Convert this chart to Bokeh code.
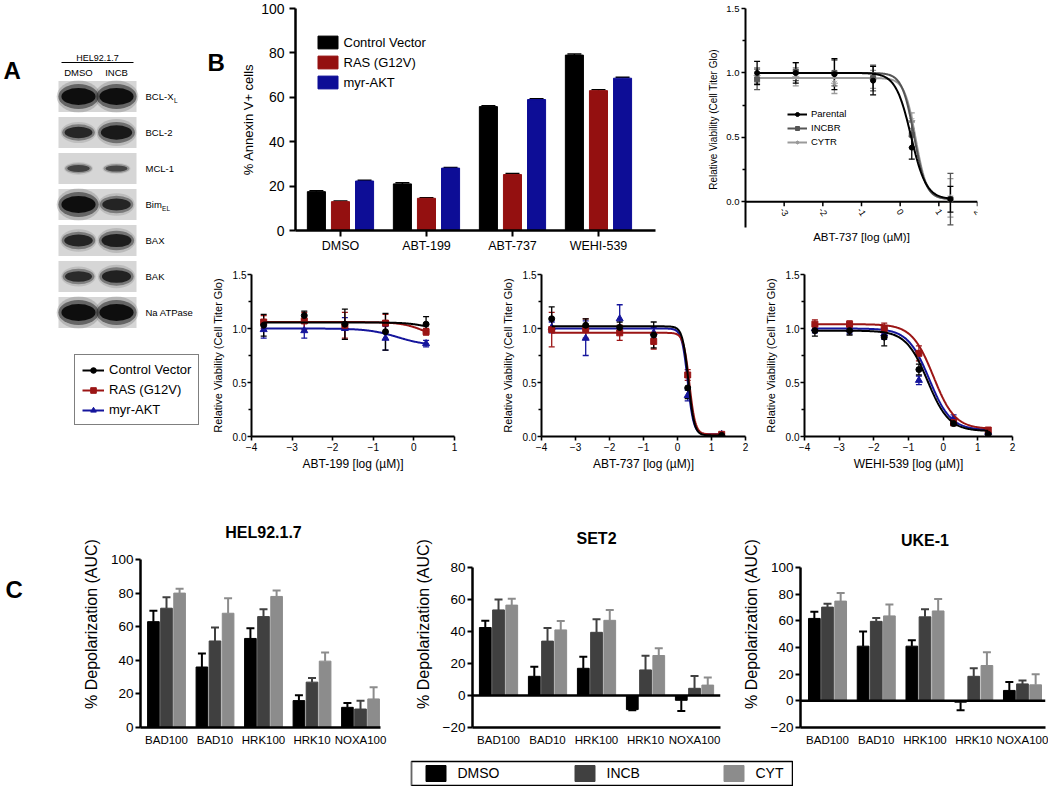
import numpy as np
from bokeh.plotting import figure
from bokeh.models import (Range1d, FixedTicker, NumeralTickFormatter, Whisker, ColumnDataSource,
                          Legend, LegendItem, Span, TeeHead, Spacer)
from bokeh.layouts import row, column
from bokeh.core.properties import value
from bokeh.embed import file_html
from bokeh.resources import INLINE

FONT = "Liberation Sans"

# ---------------- data ----------------
# Panel A: western blot (relative band intensity, read by eye)
blot_proteins = ["BCL-X", "BCL-2", "MCL-1", "Bim", "BAX", "BAK", "Na ATPase"]
blot_subscripts = ["L", "", "", "EL", "", "", ""]
blot_lanes = ["DMSO", "INCB"]
blot_dmso = [1.0, 0.55, 0.2, 1.0, 0.6, 0.5, 1.0]
blot_incb = [1.0, 0.8, 0.15, 0.6, 0.7, 0.65, 1.0]

# Panel B: % Annexin V+ cells
b_categories = ["DMSO", "ABT-199", "ABT-737", "WEHI-539"]
b_series = ["Control Vector", "RAS (G12V)", "myr-AKT"]
b_control = [17.5, 21.0, 55.8, 79.0]
b_ras = [13.0, 14.5, 25.2, 63.0]
b_akt = [22.3, 28.1, 59.0, 68.6]
b_control_err = [0.4, 0.5, 0.4, 0.5]
b_ras_err = [0.3, 0.3, 0.5, 0.4]
b_akt_err = [0.3, 0.3, 0.4, 0.4]

# Dose-response panels (log uM)
log_dose = [-3.7, -2.7, -1.7, -0.7, 0.3, 1.3]
log_dose_199 = [-3.7, -2.7, -1.7, -0.7, 0.3]

# top right: ABT-737 in parental / resistant lines
tr_names = ["Parental", "INCBR", "CYTR"]
tr_parental = [1.00, 1.00, 0.99, 0.94, 0.42, 0.02]
tr_parental_err = [0.09, 0.08, 0.12, 0.11, 0.09, 0.10]
tr_incbr = [0.95, 1.01, 1.00, 0.96, 0.52, 0.02]
tr_incbr_err = [0.08, 0.07, 0.10, 0.10, 0.10, 0.20]
tr_cytr = [0.98, 0.97, 0.92, 0.95, 0.63, 0.03]
tr_cytr_err = [0.06, 0.07, 0.08, 0.07, 0.06, 0.15]
# fitted curve parameters [top, bottom, logIC50, hill]
tr_parental_fit = [1.00, 0.02, 0.28, 2.2]
tr_incbr_fit = [1.00, 0.02, 0.36, 2.8]
tr_cytr_fit = [0.96, 0.02, 0.40, 3.0]

curve_names = ["Control Vector", "RAS (G12V)", "myr-AKT"]
# ABT-199
abt199_control = [1.03, 1.12, 1.04, 0.97, 1.04]
abt199_control_err = [0.10, 0.04, 0.14, 0.17, 0.07]
abt199_ras = [1.06, 1.07, 1.03, 1.05, 0.97]
abt199_ras_err = [0.06, 0.08, 0.12, 0.08, 0.03]
abt199_akt = [0.99, 0.98, 1.00, 0.91, 0.86]
abt199_akt_err = [0.08, 0.07, 0.10, 0.11, 0.03]
abt199_control_fit = [1.055, 1.00, 0.2, 2.0]
abt199_ras_fit = [1.06, 0.88, 0.3, 1.5]
abt199_akt_fit = [1.00, 0.84, -0.4, 1.2]
# ABT-737
abt737_control = [1.09, 1.03, 1.01, 0.94, 0.45, 0.01]
abt737_control_err = [0.11, 0.06, 0.05, 0.12, 0.10, 0.01]
abt737_ras = [0.99, 1.00, 0.96, 0.88, 0.57, 0.02]
abt737_ras_err = [0.16, 0.09, 0.07, 0.07, 0.05, 0.01]
abt737_akt = [1.01, 0.91, 1.09, 0.96, 0.38, 0.02]
abt737_akt_err = [0.05, 0.16, 0.13, 0.05, 0.05, 0.01]
abt737_control_fit = [1.02, 0.01, 0.32, 5.0]
abt737_ras_fit = [0.96, 0.02, 0.35, 5.0]
abt737_akt_fit = [1.00, 0.02, 0.30, 5.0]
# WEHI-539
wehi_control = [0.98, 0.98, 0.92, 0.62, 0.12, 0.02]
wehi_control_err = [0.05, 0.04, 0.08, 0.05, 0.02, 0.02]
wehi_ras = [1.04, 1.04, 1.00, 0.77, 0.13, 0.06]
wehi_ras_err = [0.04, 0.03, 0.05, 0.07, 0.03, 0.02]
wehi_akt = [1.00, 0.99, 0.95, 0.52, 0.17, 0.04]
wehi_akt_err = [0.04, 0.04, 0.05, 0.04, 0.03, 0.02]
wehi_control_fit = [0.98, 0.05, -0.45, 1.4]
wehi_ras_fit = [1.04, 0.07, -0.28, 1.4]
wehi_akt_fit = [1.00, 0.06, -0.40, 1.4]

# Panel C: BH3 profiling, % depolarization (AUC)
c_categories = ["BAD100", "BAD10", "HRK100", "HRK10", "NOXA100"]
c_treatments = ["DMSO", "INCB", "CYT"]
hel_dmso = [63, 36, 53, 16, 12]
hel_dmso_err = [6.5, 8, 6, 3.2, 2.6]
hel_incb = [71, 51.5, 66, 27, 11]
hel_incb_err = [6.5, 8, 4.4, 2.4, 4.9]
hel_cyt = [80, 68, 78, 39.5, 17]
hel_cyt_err = [2.6, 9, 3.6, 5.2, 7]
set2_dmso = [42.5, 12, 17, -8.8, -3]
set2_dmso_err = [4.3, 6, 7.3, 0.4, 6.7]
set2_incb = [53.5, 34, 39.5, 16, 4.5]
set2_incb_err = [6.5, 8.2, 8.2, 8.8, 7.7]
set2_cyt = [56.5, 41, 47, 25, 6.5]
set2_cyt_err = [4, 5.5, 6.5, 4.5, 4.7]
uke_dmso = [61.8, 41, 41, -1, 7.8]
uke_dmso_err = [5, 11, 4.4, 6, 6.4]
uke_incb = [70.3, 59.6, 63, 18.4, 12.7]
uke_incb_err = [2.5, 2.5, 5.6, 6, 2.5]
uke_cyt = [74.8, 63.7, 67.4, 26.5, 12]
uke_cyt_err = [6, 8.6, 9, 10, 8]

# ---------------- styles ----------------
B_COLORS = ["#000000", "#941010", "#0d0d96"]
CURVE_COLORS = ["#000000", "#9b1515", "#15159c"]
CURVE_MARKERS = ["circle", "square", "triangle"]
TR_COLORS = ["#000000", "#555555", "#9a9a9a"]
TR_MARKERS = ["circle", "square", "asterisk"]
C_COLORS = ["#000000", "#404040", "#8c8c8c"]


def base_fig(width, height, bl, br, bt, bb, xr, yr, axes=True):
    kw = {}
    if not axes:
        kw = dict(x_axis_location=None, y_axis_location=None)
    p = figure(width=width, height=height, x_range=xr, y_range=yr,
               min_border_left=bl, min_border_right=br, min_border_top=bt, min_border_bottom=bb,
               output_backend="svg", toolbar_location=None, tools="", **kw)
    p.xgrid.visible = False
    p.ygrid.visible = False
    p.outline_line_color = None
    p.background_fill_color = "white"
    p.border_fill_color = "white"
    return p


def style_axis(ax, label_size, title_size, line_w, tick_out, minor_out=0, label_standoff=3, title_standoff=5):
    ax.axis_line_width = line_w
    ax.axis_line_color = "black"
    ax.major_tick_line_width = line_w * 0.8
    ax.major_tick_line_color = "black"
    ax.major_tick_out = tick_out
    ax.major_tick_in = 0
    ax.minor_tick_out = minor_out
    ax.minor_tick_in = 0
    ax.minor_tick_line_width = line_w * 0.8
    ax.minor_tick_line_color = "black"
    ax.major_label_text_font = FONT
    ax.major_label_text_font_size = f"{label_size}px"
    ax.major_label_text_color = "black"
    ax.major_label_standoff = label_standoff
    ax.axis_label_text_font = FONT
    ax.axis_label_text_font_size = f"{title_size}px"
    ax.axis_label_text_font_style = "normal"
    ax.axis_label_text_color = "black"
    ax.axis_label_standoff = title_standoff


def hill(params, xs):
    top, bottom, c, h = params
    return bottom + (top - bottom) / (1.0 + 10 ** ((xs - c) * h))


def add_points(p, xs, ys, errs, fit, color, marker, size, cap=6):
    xx = np.linspace(xs[0], xs[-1], 300)
    lr = p.line(xx, hill(fit, xx), line_color=color, line_width=2)
    src = ColumnDataSource(dict(x=xs, lo=[v - e for v, e in zip(ys, errs)],
                                hi=[v + e for v, e in zip(ys, errs)]))
    p.add_layout(Whisker(source=src, base="x", lower="lo", upper="hi", line_color=color, line_width=1.3,
                         upper_head=TeeHead(size=cap, line_color=color, line_width=1.3),
                         lower_head=TeeHead(size=cap, line_color=color, line_width=1.3)))
    sr = p.scatter(xs, ys, marker=marker, size=size, fill_color=color, line_color=color)
    return [lr, sr]


def legend_common(leg, font_size):
    leg.label_text_font = FONT
    leg.label_text_font_size = f"{font_size}px"
    leg.label_text_color = "black"
    leg.background_fill_alpha = 0
    leg.margin = 0


def letter_fig(width, height, bt, bb, x0, y0, letter, lx, ly):
    # small figure holding a panel letter, in page pixel coordinates
    p = base_fig(width, height, 0, 0, bt, bb, Range1d(x0, x0 + width),
                 Range1d(y0 + height - bb, y0 + bt), axes=False)
    p.text(x=[lx], y=[ly], text=[letter], text_font=value(FONT), text_font_size="24px",
           text_font_style="bold", text_baseline="alphabetic")
    return p


# ---------------- Panel A ----------------
pa = base_fig(200, 480, 0, 0, 0, 0, Range1d(0, 200), Range1d(480, 0), axes=False)
row_y = [96 + 36 * i for i in range(len(blot_proteins))]
lane_x = [78, 116]
pa.rect(x=[97] * len(row_y), y=row_y, width=78, height=31, fill_color="#d6d6d6", line_color=None)
for lx, inten in zip(lane_x, [blot_dmso, blot_incb]):
    w = [22 + 16 * v for v in inten]
    h = [5 + 15 * v for v in inten]
    pa.ellipse(x=[lx] * len(row_y), y=row_y, width=[wi * 1.15 for wi in w], height=[hi * 1.6 for hi in h],
               fill_color="#333333", fill_alpha=[0.08 + 0.12 * v for v in inten], line_color=None)
    pa.ellipse(x=[lx] * len(row_y), y=row_y, width=[wi * 1.06 for wi in w], height=[hi * 1.25 for hi in h],
               fill_color="#222222", fill_alpha=[0.25 + 0.3 * v for v in inten], line_color=None)
    pa.ellipse(x=[lx] * len(row_y), y=row_y, width=[wi * 0.9 for wi in w], height=[hi * 0.85 for hi in h],
               fill_color="#0a0a0a", fill_alpha=[0.5 + 0.45 * v for v in inten], line_color=None)
pa.text(x=[3], y=[70], text=["A"], text_font=value(FONT), text_font_size="24px", text_font_style="bold",
        text_baseline="alphabetic")
pa.text(x=[97], y=[57], text=["HEL92.1.7"], text_font=value(FONT), text_font_size="9px",
        text_align="center", text_baseline="middle")
pa.segment(x0=[61], y0=[62], x1=[133], y1=[62], line_color="black", line_width=1)
pa.text(x=lane_x, y=[72, 72], text=blot_lanes, text_font=value(FONT), text_font_size="9.5px",
        text_align="center", text_baseline="middle")
pa.text(x=[145] * len(row_y), y=row_y, text=blot_proteins, text_font=value(FONT), text_font_size="9.5px",
        text_baseline="middle")
sub_idx = [i for i, s in enumerate(blot_subscripts) if s]
sub_dx = {0: 28.5, 3: 16.6}
pa.text(x=[145 + sub_dx[i] for i in sub_idx], y=[row_y[i] + 4 for i in sub_idx],
        text=[blot_subscripts[i] for i in sub_idx], text_font=value(FONT), text_font_size="6.5px",
        text_baseline="middle")
# legend for the dose-response curves (renderers hold one point outside the view)
a_items = []
for name, col, mk in zip(curve_names, CURVE_COLORS, CURVE_MARKERS):
    src = ColumnDataSource(dict(x=[-100], y=[-100]))
    lr = pa.line("x", "y", source=src, line_color=col, line_width=2)
    sr = pa.scatter("x", "y", source=src, marker=mk, size=6, fill_color=col, line_color=col)
    a_items.append(LegendItem(label=name, renderers=[lr, sr]))
leg_a = Legend(items=a_items, location=(74, 55), glyph_width=22, glyph_height=14, label_height=14,
               label_standoff=5, spacing=5, padding=7, border_line_color="black", border_line_width=1.5)
legend_common(leg_a, 13)
pa.add_layout(leg_a)

# ---------------- Panel B ----------------
TOP1, BOT1 = 8, 28          # shared borders of the first row (frame 8..230 px)
pbl = letter_fig(28, 258, TOP1, BOT1, 200, 0, "B", 207, 62)

pb = base_fig(452, 258, 67, 25, TOP1, BOT1, Range1d(-0.523, 3.663), Range1d(0, 100))
b_offsets = [-0.28, 0.0, 0.28]
b_vals = [b_control, b_ras, b_akt]
b_errs = [b_control_err, b_ras_err, b_akt_err]
b_items = []
for k in range(3):
    xs = [i + b_offsets[k] for i in range(len(b_categories))]
    r = pb.vbar(x=xs, top=b_vals[k], bottom=0, width=0.21, fill_color=B_COLORS[k], line_color=B_COLORS[k])
    src = ColumnDataSource(dict(x=xs, lo=b_vals[k], hi=[v + e for v, e in zip(b_vals[k], b_errs[k])]))
    pb.add_layout(Whisker(source=src, base="x", lower="lo", upper="hi", line_color="black", line_width=1.5,
                          lower_head=None, upper_head=TeeHead(size=14, line_color="black", line_width=1.5)))
    b_items.append(LegendItem(label=b_series[k], renderers=[r]))
pb.xaxis.ticker = FixedTicker(ticks=list(range(len(b_categories))), minor_ticks=[])
pb.xaxis.major_label_overrides = {i: c for i, c in enumerate(b_categories)}
pb.yaxis.ticker = FixedTicker(ticks=[0, 20, 40, 60, 80, 100], minor_ticks=[])
pb.yaxis.axis_label = "% Annexin V+ cells"
style_axis(pb.xaxis[0], 12.5, 13, 2.5, 6, label_standoff=2)
style_axis(pb.yaxis[0], 14, 13, 2.5, 6, label_standoff=5, title_standoff=2)
leg_b = Legend(items=b_items, location=(19.5, 140), glyph_width=25, glyph_height=16, label_height=16,
               label_standoff=4, spacing=4, padding=0, border_line_color=None)
legend_common(leg_b, 13)
pb.add_layout(leg_b)

# ---------------- top right curve ----------------
# frame 8..230 px; -0.2 at 227 px and 1.5 at 8 px
ptr = base_fig(368, 258, 65, 71, TOP1, BOT1, Range1d(-4, 2), Range1d(-0.2233, 1.5))
ptr.yaxis.ticker = FixedTicker(ticks=[0, 0.5, 1.0, 1.5], minor_ticks=[0.25, 0.75, 1.25])
ptr.yaxis.formatter = NumeralTickFormatter(format="0.0")
ptr.yaxis.bounds = (-0.2, 1.5)
ptr.yaxis.axis_label = "Relative Viability (Cell Titer Glo)"
style_axis(ptr.yaxis[0], 9.5, 10, 2, 4, minor_out=3, label_standoff=2, title_standoff=4)
style_axis(ptr.xaxis[0], 9, 11.5, 0, 0, label_standoff=0, title_standoff=0)
ptr.xaxis.ticker = FixedTicker(ticks=[], minor_ticks=[])
ptr.xaxis.axis_line_color = None
ptr.xaxis.axis_label = "ABT-737 [log (µM)]"
tr_ticks = [-3, -2, -1, 0, 1, 2]
ptr.segment(x0=[-4], y0=[0], x1=[2], y1=[0], line_color="black", line_width=2)
ptr.segment(x0=tr_ticks, y0=[0] * len(tr_ticks), x1=tr_ticks, y1=[-0.035] * len(tr_ticks),
            line_color="black", line_width=1.5)
ptr.text(x=tr_ticks, y=[-0.08] * len(tr_ticks), text=[str(t) for t in tr_ticks], angle=-1.0,
         text_font=value(FONT), text_font_size="9px", text_align="center", text_baseline="middle")
tr_data = [(tr_cytr, tr_cytr_err, tr_cytr_fit, 2), (tr_incbr, tr_incbr_err, tr_incbr_fit, 1),
           (tr_parental, tr_parental_err, tr_parental_fit, 0)]
tr_r = {}
for ys, es, fit, k in tr_data:
    tr_r[k] = add_points(ptr, log_dose, ys, es, fit, TR_COLORS[k], TR_MARKERS[k], 7 if k == 2 else 5)
leg_tr = Legend(items=[LegendItem(label=tr_names[k], renderers=tr_r[k]) for k in range(3)],
                location=(42, 83), glyph_width=20, glyph_height=10, label_height=10, label_standoff=4,
                spacing=3, padding=0, border_line_color=None)
legend_common(leg_tr, 9.5)
ptr.add_layout(leg_tr)

# ---------------- bottom dose-response curves ----------------
TOP2, BOT2 = 16, 44


def curve_fig(width, bl, br, x_end, xlabel, xs, sets):
    p = base_fig(width, 222, bl, br, TOP2, BOT2, Range1d(-4, x_end), Range1d(0, 1.5))
    p.xaxis.ticker = FixedTicker(ticks=list(range(-4, x_end + 1)), minor_ticks=[])
    p.yaxis.ticker = FixedTicker(ticks=[0, 0.5, 1.0, 1.5], minor_ticks=[0.25, 0.75, 1.25])
    p.yaxis.formatter = NumeralTickFormatter(format="0.0")
    p.xaxis.axis_label = xlabel
    p.yaxis.axis_label = "Relative Viability (Cell Titer Glo)"
    style_axis(p.xaxis[0], 10, 12, 2, 4, label_standoff=2, title_standoff=3)
    style_axis(p.yaxis[0], 10, 11, 2, 4, minor_out=3, label_standoff=1, title_standoff=6)
    for k in [2, 1, 0]:
        ys, es, fit = sets[k]
        add_points(p, xs, ys, es, fit, CURVE_COLORS[k], CURVE_MARKERS[k], 6 if k != 2 else 7)
    return p


pc1 = curve_fig(280, 51, 26, 1, "ABT-199 [log (µM)]", log_dose_199,
                [(abt199_control, abt199_control_err, abt199_control_fit),
                 (abt199_ras, abt199_ras_err, abt199_ras_fit),
                 (abt199_akt, abt199_akt_err, abt199_akt_fit)])
pc2 = curve_fig(280, 61, 15, 2, "ABT-737 [log (µM)]", log_dose,
                [(abt737_control, abt737_control_err, abt737_control_fit),
                 (abt737_ras, abt737_ras_err, abt737_ras_fit),
                 (abt737_akt, abt737_akt_err, abt737_akt_fit)])
pc3 = curve_fig(288, 44, 36, 2, "WEHI-539 [log (µM)]", log_dose,
                [(wehi_control, wehi_control_err, wehi_control_fit),
                 (wehi_ras, wehi_ras_err, wehi_ras_fit),
                 (wehi_akt, wehi_akt_err, wehi_akt_fit)])

# ---------------- Panel C ----------------
TOP3, BOT3 = 40, 33          # frame 520..727 px


def bh3_fig(width, bl, br, xr, yr, bounds, yticks, title, title_y, groups, zero_line):
    p = base_fig(width, 280, bl, br, TOP3, BOT3, Range1d(*xr), Range1d(*yr))
    offsets = [-0.27, 0.0, 0.27]
    for k, (vals, errs) in enumerate(groups):
        col = C_COLORS[k]
        xs = [i + offsets[k] for i in range(len(c_categories))]
        p.vbar(x=xs, top=vals, bottom=0, width=0.24, fill_color=col, line_color=col)
        pos = [(x, v, v + e) for x, v, e in zip(xs, vals, errs) if v >= 0]
        neg = [(x, v - e, v) for x, v, e in zip(xs, vals, errs) if v < 0]
        if pos:
            src = ColumnDataSource(dict(x=[t[0] for t in pos], lo=[t[1] for t in pos], hi=[t[2] for t in pos]))
            p.add_layout(Whisker(source=src, base="x", lower="lo", upper="hi", line_color=col, line_width=2,
                                 lower_head=None, upper_head=TeeHead(size=8, line_color=col, line_width=2)))
        if neg:
            src = ColumnDataSource(dict(x=[t[0] for t in neg], lo=[t[1] for t in neg], hi=[t[2] for t in neg]))
            p.add_layout(Whisker(source=src, base="x", lower="lo", upper="hi", line_color=col, line_width=2,
                                 upper_head=None, lower_head=TeeHead(size=8, line_color=col, line_width=2)))
    if zero_line:
        p.add_layout(Span(location=0, dimension="width", line_color="black", line_width=2.5))
    p.xaxis.ticker = FixedTicker(ticks=list(range(len(c_categories))), minor_ticks=[])
    p.xaxis.major_label_overrides = {i: c for i, c in enumerate(c_categories)}
    p.yaxis.ticker = FixedTicker(ticks=yticks, minor_ticks=[])
    p.yaxis.bounds = bounds
    p.yaxis.axis_label = "% Depolarization (AUC)"
    style_axis(p.xaxis[0], 11.5, 12, 2.5, 0, label_standoff=6)
    style_axis(p.yaxis[0], 13.5, 16, 2.5, 5, label_standoff=2, title_standoff=8)
    p.text(x=[(len(c_categories) - 1) / 2], y=[title_y], text=[title], text_font=value(FONT),
           text_font_size="16px", text_font_style="bold", text_align="center", text_baseline="middle")
    return p


pcl = letter_fig(40, 280, TOP3, BOT3, 0, 480, "C", 5, 589)
phel = bh3_fig(360, 100, 20, (-0.536, 4.412), (0, 123.2), (0, 100), [0, 20, 40, 60, 80, 100],
               "HEL92.1.7", 116.1,
               [(hel_dmso, hel_dmso_err), (hel_incb, hel_incb_err), (hel_cyt, hel_cyt_err)], False)
pset2 = bh3_fig(338, 72, 18, (-0.531, 4.53), (-20, 109.4), (-20, 80), [-20, 0, 20, 40, 60, 80],
                "SET2", 98.1,
                [(set2_dmso, set2_dmso_err), (set2_incb, set2_incb_err), (set2_cyt, set2_cyt_err)], True)
puke = bh3_fig(310, 62, 3, (-0.554, 4.472), (-20, 135.25), (-20, 100), [-20, 0, 20, 40, 60, 80, 100],
               "UKE-1", 120.3,
               [(uke_dmso, uke_dmso_err), (uke_incb, uke_incb_err), (uke_cyt, uke_cyt_err)], True)

# legend for panel C
pleg = base_fig(383, 26, 1, 1, 1, 1, Range1d(0, 1), Range1d(0, 1), axes=False)
pleg.outline_line_color = "black"
pleg.outline_line_width = 1.5
c_items = []
for t, col in zip(c_treatments, C_COLORS):
    r = pleg.vbar(x=[-10], top=[1], width=0.1, fill_color=col, line_color=col)
    c_items.append(LegendItem(label=t, renderers=[r]))
leg_c = Legend(items=c_items, orientation="horizontal", location=(11.5, 2), glyph_width=25, glyph_height=20,
               label_height=20, label_width=100, label_standoff=10, spacing=14, padding=0,
               border_line_color=None)
legend_common(leg_c, 14)
pleg.add_layout(leg_c)

layout = column(
    row(pa, column(row(pbl, pb, ptr), row(pc1, pc2, pc3))),
    row(pcl, phel, pset2, puke),
    row(Spacer(width=410, height=26), pleg),
)

open("out.html", "w").write(file_html(layout, INLINE))
